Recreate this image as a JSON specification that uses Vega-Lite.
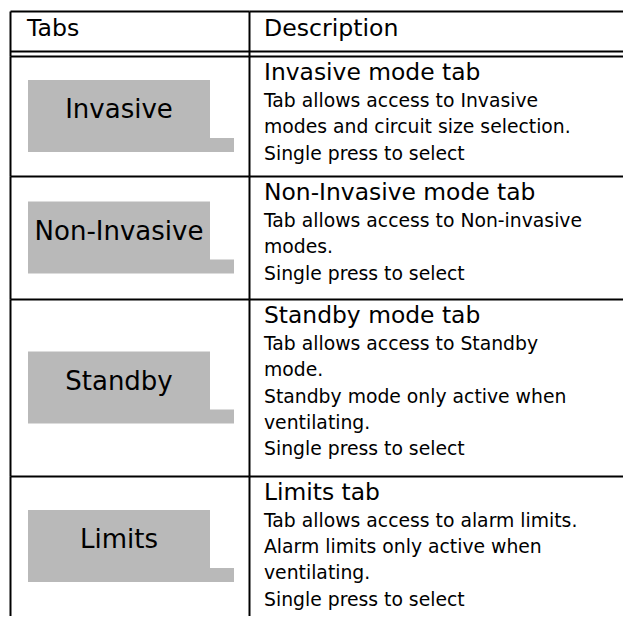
{
  "$schema": "https://vega.github.io/schema/vega-lite/v6.json",
  "padding": {"left": 10, "top": 11, "right": 0, "bottom": 0},
  "background": "white",
  "datasets": {
    "header": [
      {"column": "Tabs", "line": 0},
      {"column": "Description", "line": 0}
    ],
    "tabs": [
      {"row": 1, "tab": "Invasive"},
      {"row": 2, "tab": "Non-Invasive"},
      {"row": 3, "tab": "Standby"},
      {"row": 4, "tab": "Limits"}
    ],
    "lines": [
      {"row": 1, "line": 0, "kind": "title", "text": "Invasive mode tab"},
      {"row": 1, "line": 1, "kind": "body", "text": "Tab allows access to Invasive"},
      {"row": 1, "line": 2, "kind": "body", "text": "modes and circuit size selection."},
      {"row": 1, "line": 3, "kind": "body", "text": "Single press to select"},
      {"row": 2, "line": 0, "kind": "title", "text": "Non-Invasive mode tab"},
      {"row": 2, "line": 1, "kind": "body", "text": "Tab allows access to Non-invasive"},
      {"row": 2, "line": 2, "kind": "body", "text": "modes."},
      {"row": 2, "line": 3, "kind": "body", "text": "Single press to select"},
      {"row": 3, "line": 0, "kind": "title", "text": "Standby mode tab"},
      {"row": 3, "line": 1, "kind": "body", "text": "Tab allows access to Standby"},
      {"row": 3, "line": 2, "kind": "body", "text": "mode."},
      {"row": 3, "line": 3, "kind": "body", "text": "Standby mode only active when"},
      {"row": 3, "line": 4, "kind": "body", "text": "ventilating."},
      {"row": 3, "line": 5, "kind": "body", "text": "Single press to select"},
      {"row": 4, "line": 0, "kind": "title", "text": "Limits tab"},
      {"row": 4, "line": 1, "kind": "body", "text": "Tab allows access to alarm limits."},
      {"row": 4, "line": 2, "kind": "body", "text": "Alarm limits only active when"},
      {"row": 4, "line": 3, "kind": "body", "text": "ventilating."},
      {"row": 4, "line": 4, "kind": "body", "text": "Single press to select"}
    ]
  },
  "spacing": 0,
  "bounds": "flush",
  "align": "each",
  "columns": 2,
  "concat": [
    {
      "width": 239, "height": 45,
      "data": {"name": "header"},
      "transform": [{"filter": "datum.column == 'Tabs'"}],
      "mark": {"type": "text", "font": "DejaVu Sans", "fontSize": 23.6, "align": "left", "baseline": "alphabetic", "dx": 17, "color": "#000"},
      "encoding": {
        "x": {"field": "column", "type": "nominal", "bandPosition": 0, "scale": {"type": "band", "paddingInner": 0, "paddingOuter": 0}, "axis": {"orient": "top", "title": null}},
        "y": {"field": "line", "type": "quantitative", "scale": {"domain": [-0.9434, 0.7547], "reverse": true, "nice": false, "zero": false}, "axis": {"orient": "left", "title": null, "grid": true, "values": [0.566]}},
        "text": {"field": "column"}
      }
    },
    {
      "width": 374, "height": 45,
      "data": {"name": "header"},
      "transform": [{"filter": "datum.column == 'Description'"}],
      "mark": {"type": "text", "font": "DejaVu Sans", "fontSize": 23.6, "align": "left", "baseline": "alphabetic", "dx": 15, "color": "#000"},
      "encoding": {
        "x": {"field": "column", "type": "nominal", "bandPosition": 0, "scale": {"type": "band", "paddingInner": 0, "paddingOuter": 0}, "axis": {"orient": "top", "title": null}},
        "y": {"field": "line", "type": "quantitative", "scale": {"domain": [-0.9434, 0.7547], "reverse": true, "nice": false, "zero": false}, "axis": {"orient": "left", "title": null, "grid": true, "values": [0.566]}},
        "text": {"field": "column"}
      }
    },
    {
      "width": 239, "height": 120,
      "data": {"name": "tabs"},
      "transform": [{"filter": "datum.row == 1"}],
      "encoding": {
        "x": {"field": "tab", "type": "nominal", "scale": {"type": "band", "paddingInner": 0, "paddingOuter": 0}, "axis": {"orient": "top", "title": null}},
        "y": {"field": "tab", "type": "nominal", "scale": {"type": "band", "paddingInner": 0, "paddingOuter": 0}, "axis": {"orient": "left", "title": null}}
      },
      "layer": [
        {"mark": {"type": "point", "shape": "M-1.015,-0.36H0.805V0.22H1.045V0.36H-1.015Z", "size": 40000, "filled": true, "color": "#b9b9b9", "opacity": 1}},
        {"mark": {"type": "text", "font": "DejaVu Sans", "fontSize": 26, "dx": -10.5, "dy": 2, "baseline": "alphabetic", "align": "center", "color": "#000"}, "encoding": {"text": {"field": "tab"}}}
      ]
    },
    {
      "width": 374, "height": 120,
      "data": {"name": "lines"},
      "transform": [{"filter": "datum.row == 1"}],
      "mark": {"type": "text", "font": "DejaVu Sans", "align": "left", "baseline": "alphabetic", "dx": 15, "color": "#000"},
      "encoding": {
        "x": {"field": "row", "type": "nominal", "bandPosition": 0, "scale": {"type": "band", "paddingInner": 0, "paddingOuter": 0}, "axis": {"orient": "top", "title": null}},
        "y": {"field": "line", "type": "quantitative", "scale": {"domain": [-0.9057, 3.6226], "reverse": true, "nice": false, "zero": false}, "axis": {"orient": "left", "title": null}},
        "text": {"field": "text"},
        "size": {"field": "kind", "type": "ordinal", "scale": {"domain": ["title", "body"], "range": [23.4, 18.8]}, "legend": null}
      }
    },
    {
      "width": 239, "height": 123,
      "data": {"name": "tabs"},
      "transform": [{"filter": "datum.row == 2"}],
      "encoding": {
        "x": {"field": "tab", "type": "nominal", "scale": {"type": "band", "paddingInner": 0, "paddingOuter": 0}, "axis": {"orient": "top", "title": null}},
        "y": {"field": "tab", "type": "nominal", "scale": {"type": "band", "paddingInner": 0, "paddingOuter": 0}, "axis": {"orient": "left", "title": null}}
      },
      "layer": [
        {"mark": {"type": "point", "shape": "M-1.015,-0.36H0.805V0.22H1.045V0.36H-1.015Z", "size": 40000, "filled": true, "color": "#b9b9b9", "opacity": 1}},
        {"mark": {"type": "text", "font": "DejaVu Sans", "fontSize": 26, "dx": -10.5, "dy": 2, "baseline": "alphabetic", "align": "center", "color": "#000"}, "encoding": {"text": {"field": "tab"}}}
      ]
    },
    {
      "width": 374, "height": 123,
      "data": {"name": "lines"},
      "transform": [{"filter": "datum.row == 2"}],
      "mark": {"type": "text", "font": "DejaVu Sans", "align": "left", "baseline": "alphabetic", "dx": 15, "color": "#000"},
      "encoding": {
        "x": {"field": "row", "type": "nominal", "bandPosition": 0, "scale": {"type": "band", "paddingInner": 0, "paddingOuter": 0}, "axis": {"orient": "top", "title": null}},
        "y": {"field": "line", "type": "quantitative", "scale": {"domain": [-0.9057, 3.7358], "reverse": true, "nice": false, "zero": false}, "axis": {"orient": "left", "title": null}},
        "text": {"field": "text"},
        "size": {"field": "kind", "type": "ordinal", "scale": {"domain": ["title", "body"], "range": [23.4, 18.8]}, "legend": null}
      }
    },
    {
      "width": 239, "height": 177,
      "data": {"name": "tabs"},
      "transform": [{"filter": "datum.row == 3"}],
      "encoding": {
        "x": {"field": "tab", "type": "nominal", "scale": {"type": "band", "paddingInner": 0, "paddingOuter": 0}, "axis": {"orient": "top", "title": null}},
        "y": {"field": "tab", "type": "nominal", "scale": {"type": "band", "paddingInner": 0, "paddingOuter": 0}, "axis": {"orient": "left", "title": null}}
      },
      "layer": [
        {"mark": {"type": "point", "shape": "M-1.015,-0.36H0.805V0.22H1.045V0.36H-1.015Z", "size": 40000, "filled": true, "color": "#b9b9b9", "opacity": 1}},
        {"mark": {"type": "text", "font": "DejaVu Sans", "fontSize": 26, "dx": -10.5, "dy": 2, "baseline": "alphabetic", "align": "center", "color": "#000"}, "encoding": {"text": {"field": "tab"}}}
      ]
    },
    {
      "width": 374, "height": 177,
      "data": {"name": "lines"},
      "transform": [{"filter": "datum.row == 3"}],
      "mark": {"type": "text", "font": "DejaVu Sans", "align": "left", "baseline": "alphabetic", "dx": 15, "color": "#000"},
      "encoding": {
        "x": {"field": "row", "type": "nominal", "bandPosition": 0, "scale": {"type": "band", "paddingInner": 0, "paddingOuter": 0}, "axis": {"orient": "top", "title": null}},
        "y": {"field": "line", "type": "quantitative", "scale": {"domain": [-0.9057, 5.7736], "reverse": true, "nice": false, "zero": false}, "axis": {"orient": "left", "title": null}},
        "text": {"field": "text"},
        "size": {"field": "kind", "type": "ordinal", "scale": {"domain": ["title", "body"], "range": [23.4, 18.8]}, "legend": null}
      }
    },
    {
      "width": 239, "height": 140,
      "data": {"name": "tabs"},
      "transform": [{"filter": "datum.row == 4"}],
      "encoding": {
        "x": {"field": "tab", "type": "nominal", "scale": {"type": "band", "paddingInner": 0, "paddingOuter": 0}, "axis": {"orient": "top", "title": null}},
        "y": {"field": "tab", "type": "nominal", "scale": {"type": "band", "paddingInner": 0, "paddingOuter": 0}, "axis": {"orient": "left", "title": null}}
      },
      "layer": [
        {"mark": {"type": "point", "shape": "M-1.015,-0.36H0.805V0.22H1.045V0.36H-1.015Z", "size": 40000, "filled": true, "color": "#b9b9b9", "opacity": 1}},
        {"mark": {"type": "text", "font": "DejaVu Sans", "fontSize": 26, "dx": -10.5, "dy": 2, "baseline": "alphabetic", "align": "center", "color": "#000"}, "encoding": {"text": {"field": "tab"}}}
      ]
    },
    {
      "width": 374, "height": 140,
      "data": {"name": "lines"},
      "transform": [{"filter": "datum.row == 4"}],
      "mark": {"type": "text", "font": "DejaVu Sans", "align": "left", "baseline": "alphabetic", "dx": 15, "color": "#000"},
      "encoding": {
        "x": {"field": "row", "type": "nominal", "bandPosition": 0, "scale": {"type": "band", "paddingInner": 0, "paddingOuter": 0}, "axis": {"orient": "top", "title": null}},
        "y": {"field": "line", "type": "quantitative", "scale": {"domain": [-0.9057, 4.3774], "reverse": true, "nice": false, "zero": false}, "axis": {"orient": "left", "title": null}},
        "text": {"field": "text"},
        "size": {"field": "kind", "type": "ordinal", "scale": {"domain": ["title", "body"], "range": [23.4, 18.8]}, "legend": null}
      }
    }
  ],
  "config": {
    "view": {"stroke": null},
    "axis": {"domainColor": "#000", "domainWidth": 2, "ticks": false, "labels": false, "grid": false, "gridColor": "#000", "gridWidth": 2, "gridOpacity": 1, "titlePadding": 0, "labelPadding": 0, "minExtent": 0, "maxExtent": 0}
  }
}
